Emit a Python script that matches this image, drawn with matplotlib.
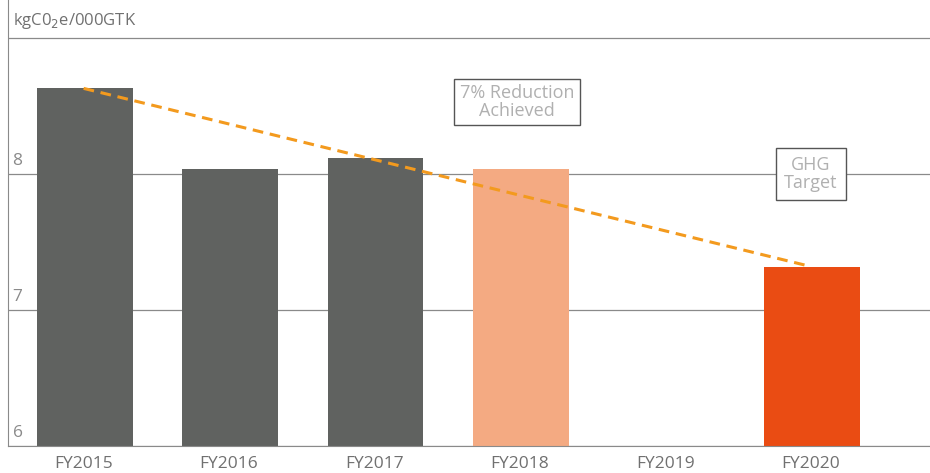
import matplotlib.pyplot as plt
import matplotlib.transforms as mtransforms

# data
years = ['FY2015', 'FY2016', 'FY2017', 'FY2018', 'FY2019', 'FY2020']
values = [8.63, 8.04, 8.12, 8.04, 0, 7.32]
colors = ['#606260', '#606260', '#606260', '#F4AA82', '#FFFFFF', '#EA4C13']
trend_idx = [0, 5]
yticks = [6, 7, 8, 9]

plt.rcParams['font.family'] = ['Open Sans', 'DejaVu Sans']

fig = plt.figure(figsize=(9.3, 4.73), dpi=100)
ax = fig.add_axes([8 / 930, 27 / 473, 922 / 930, 446 / 473])

x = list(range(len(years)))
bar_vals = [v if v > 0 else 0 for v in values]
ax.bar([i + 0.007 for i in x], bar_vals, width=0.66, color=colors, zorder=2)

# trend line between first and target
ax.plot(trend_idx, [values[i] for i in trend_idx], linestyle=(0, (3.5, 2.2)),
        color='#F39A1E', linewidth=2.2, zorder=3)

ax.set_ylim(6, 9.28)
ax.set_xlim(-0.52, 5.82)

for t in yticks:
    ax.axhline(t, color='#8a8a8a', linewidth=0.9, zorder=1)

trans = mtransforms.blended_transform_factory(ax.transAxes, ax.transData)
for t in yticks[:-1]:
    ax.text(0.005, t + 0.04, str(t), transform=trans, fontsize=12.5,
            color='#8a8a8a', ha='left', va='bottom', zorder=4)
ax.text(0.005, 9.05, 'kgC0$_2$e/000GTK', transform=trans, fontsize=12,
        color='#707070', ha='left', va='bottom')

ax.set_yticks([])
ax.set_xticks(x)
ax.set_xticklabels(years, fontsize=12.5, color='#707070')
ax.tick_params(axis='x', length=0, pad=7)

for s in ['top', 'right']:
    ax.spines[s].set_visible(False)
ax.spines['left'].set_color('#8a8a8a')
ax.spines['bottom'].set_color('#8a8a8a')

box = dict(boxstyle='square,pad=0.3', facecolor='white', edgecolor='#555555', linewidth=1)
ax.text(2.98, 8.53, '7% Reduction\nAchieved', ha='center', va='center', fontsize=13,
        color='#b0b0b0', bbox=box, linespacing=0.95, zorder=5)
ax.text(5.0, 8.0, 'GHG\nTarget', ha='center', va='center', fontsize=13,
        color='#b0b0b0', bbox=dict(boxstyle='square,pad=0.45', facecolor='white',
                                   edgecolor='#555555', linewidth=1),
        linespacing=0.95, zorder=5)

fig.savefig('out.png', dpi=100)
